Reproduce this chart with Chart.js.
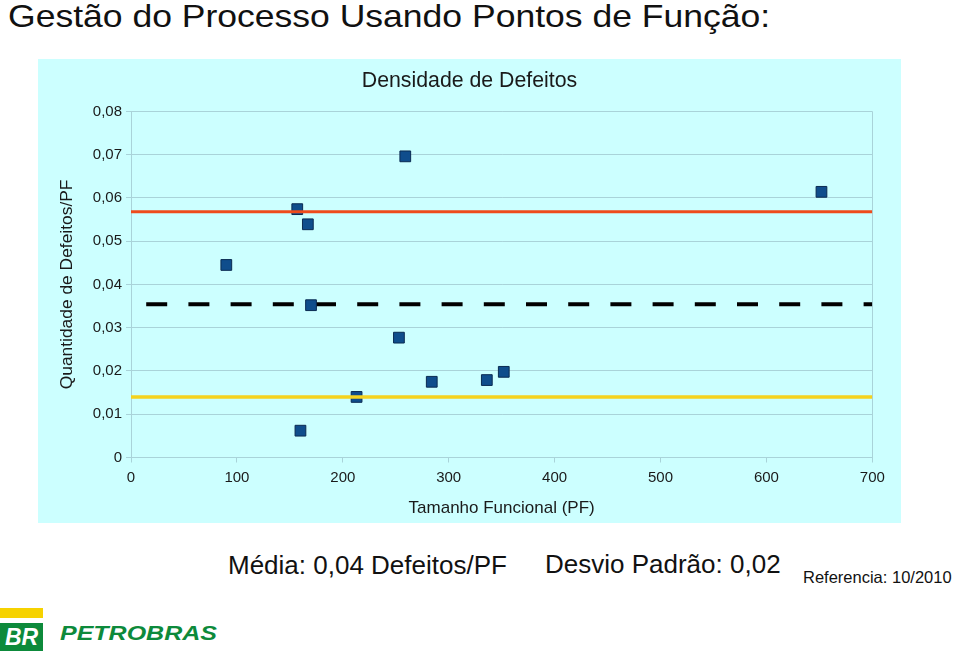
<!DOCTYPE html>
<html>
<head>
<meta charset="utf-8">
<script src="https://cdn.jsdelivr.net/npm/chart.js@4.4.0/dist/chart.umd.min.js"></script>
<style>
  body { margin:0; width:960px; height:653px; background:#fff; position:relative; overflow:hidden;
         font-family:"Liberation Sans", Arial, sans-serif; color:#111; }
  .txt { position:absolute; white-space:nowrap; line-height:1; }
  #titulo { left:8px; top:0px; font-size:32px; transform:scaleX(1.11); transform-origin:left top; }
  #painel { position:absolute; left:38px; top:59px; width:863px; height:464px; background:#ccffff; }
  #media { left:228px; top:552px; font-size:26px; }
  #desvio { left:545px; top:551px; font-size:26px; }
  #ref { left:803px; top:569px; font-size:16.5px; }
  #brAmarelo { position:absolute; left:0; top:608px; width:43px; height:10px; background:#f6d200; }
  #brVerde { position:absolute; left:0; top:623px; width:43px; height:28px; background:#0d8a3b;
             color:#fff; font-weight:bold; font-style:italic; font-size:23px; line-height:28px; text-align:center; }
  #petro { left:60px; top:623px; font-size:20px; font-weight:bold; font-style:italic; color:#0d8a3b;
           transform:scaleX(1.25); transform-origin:left top; }
</style>
</head>
<body>
<div class="txt" id="titulo">Gestão do Processo Usando Pontos de Função:</div>
<div id="painel"><canvas id="grafico" width="863" height="464"></canvas></div>
<div class="txt" id="media">Média: 0,04 Defeitos/PF</div>
<div class="txt" id="desvio">Desvio Padrão: 0,02</div>
<div class="txt" id="ref">Referencia: 10/2010</div>
<div id="brAmarelo"></div>
<div id="brVerde">BR</div>
<div class="txt" id="petro">PETROBRAS</div>

<script>
// dados
var tamanhoPF = [90, 157, 167, 259, 652, 170, 160, 213, 253, 284, 336, 352];
var densidade = [0.0445, 0.0574, 0.0539, 0.0696, 0.0614, 0.0352, 0.0062, 0.0140, 0.0277, 0.0175, 0.0179, 0.0198];
var xTicks = [0, 100, 200, 300, 400, 500, 600, 700];
var yTicks = [0, 0.01, 0.02, 0.03, 0.04, 0.05, 0.06, 0.07, 0.08];
var media = 0.0354;
var limiteSup = 0.0568;
var limiteInf = 0.0140;

var corGrade = '#a9d3d9';
var margem = 14.35;
Chart.defaults.font.family = '"Liberation Sans", Arial, sans-serif';
Chart.defaults.color = '#1a1a1a';

var pontos = tamanhoPF.map(function(x, i){ return {x: x, y: densidade[i]}; });
function linha(v){ return [{x: xTicks[0], y: v}, {x: xTicks[xTicks.length-1], y: v}]; }

var ctx = document.getElementById('grafico');
var chart = new Chart(ctx, {
    type: 'scatter',
    data: {
        datasets: [
          {
            label: 'Densidade',
            data: pontos,
            pointStyle: 'rect',
            pointRadius: 7.6,
            backgroundColor: '#0f4d8c',
            borderColor: '#0a2b52',
            borderWidth: 1,
            order: 2
          },
          {
            label: 'Limite superior',
            data: linha(limiteSup),
            showLine: true,
            borderColor: '#ee4b1c',
            borderWidth: 3,
            pointRadius: 0,
            order: 1
          },
          {
            label: 'Limite inferior',
            data: linha(limiteInf),
            showLine: true,
            borderColor: '#f5d21f',
            borderWidth: 3.5,
            pointRadius: 0,
            order: 1
          },
          {
            label: 'Media',
            data: linha(media),
            showLine: true,
            borderColor: '#000',
            borderWidth: 4,
            borderDash: [21, 21.2],
            borderDashOffset: 27,
            pointRadius: 0,
            order: 3
          }
        ]
    },
    options: {
        responsive: false,
        animation: false,
        devicePixelRatio: 1,
        layout: { padding: { left: margem, right: margem, top: 0, bottom: 0 } },
        plugins: {
            legend: { display: false },
            tooltip: { enabled: false },
            title: {
                display: true,
                text: 'Densidade de Defeitos',
                font: { size: 21.3, weight: 'normal' },
                color: '#1a1a1a',
                padding: { top: 9.4, bottom: 17.4 }
            }
        },
        scales: {
            x: {
                type: 'linear',
                min: xTicks[0],
                max: xTicks[xTicks.length-1],
                afterFit: function(s){ s.height = 65.5; s.paddingLeft = 0; s.paddingRight = 2 * margem; },
                afterBuildTicks: function(s){ s.ticks = xTicks.map(function(v){ return {value: v}; }); },
                ticks: { font: { size: 15 }, padding: 6, maxRotation: 0 },
                grid: {
                    color: function(c){ return c.tick && c.tick.value === 700 ? corGrade : 'rgba(0,0,0,0)'; },
                    tickColor: corGrade,
                    tickLength: 5
                },
                border: { color: corGrade },
                title: { display: true, text: 'Tamanho Funcional (PF)', font: { size: 17 }, padding: { top: 0, bottom: 4.8 } }
            },
            y: {
                type: 'linear',
                min: yTicks[0],
                max: yTicks[yTicks.length-1],
                afterFit: function(s){ s.width = 93 - margem; },
                afterBuildTicks: function(s){ s.ticks = yTicks.map(function(v){ return {value: v}; }); },
                ticks: {
                    font: { size: 15 },
                    padding: 4,
                    callback: function(v){ return v === 0 ? '0' : v.toFixed(2).replace('.', ','); }
                },
                grid: { color: corGrade, tickLength: 5 },
                border: { color: corGrade },
                title: { display: true, text: 'Quantidade de Defeitos/PF', font: { size: 17.4 }, padding: { top: 4.2, bottom: 0 } }
            }
        }
    }
});
</script>
</body>
</html>
